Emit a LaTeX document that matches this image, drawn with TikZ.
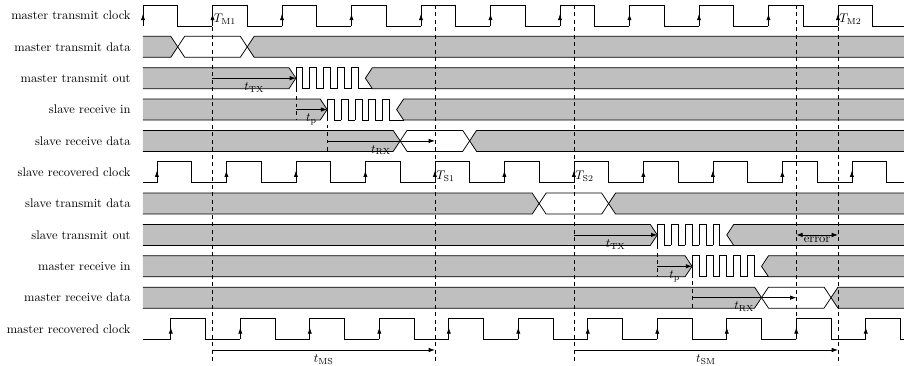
\documentclass[tikz,border=0pt]{standalone}
\usepackage{amsmath}
\usetikzlibrary{arrows.meta}

\newcommand{\bh}{0.335}
\newcommand{\bd}{0.2}
\newcommand{\xend}{21.9}

% clock, #1 = row, #2 = phase of first rising edge
\newcommand{\clkwave}[2]{%
  \draw[sigline] (0,#1-\bh) -- (#2,#1-\bh);
  \foreach \k in {0,...,10} {
    \draw[sigline] (#2+2*\k,#1-\bh) -- (#2+2*\k,#1+\bh) -- (#2+2*\k+1,#1+\bh)
      -- (#2+2*\k+1,#1-\bh) -- ({min(#2+2*\k+2,\xend)},#1-\bh);
    \draw[edgemark] (#2+2*\k,#1-\bh) -- (#2+2*\k,#1+0.05);
  }
}
% bus with one data word between #2 and #3
\newcommand{\datarow}[3]{%
  \fill[busfill] (0,#1+\bh) -- (#2-\bd,#1+\bh) -- (#2,#1) -- (#2-\bd,#1-\bh) -- (0,#1-\bh) -- cycle;
  \fill[busfill] (\xend,#1+\bh) -- (#3+\bd,#1+\bh) -- (#3,#1) -- (#3+\bd,#1-\bh) -- (\xend,#1-\bh) -- cycle;
  \draw[sigline] (0,#1+\bh) -- (#2-\bd,#1+\bh) -- (#2+\bd,#1-\bh) -- (#3-\bd,#1-\bh) -- (#3+\bd,#1+\bh) -- (\xend,#1+\bh);
  \draw[sigline] (0,#1-\bh) -- (#2-\bd,#1-\bh) -- (#2+\bd,#1+\bh) -- (#3-\bd,#1+\bh) -- (#3+\bd,#1-\bh) -- (\xend,#1-\bh);
}
% line with a bit burst starting at #2
\newcommand{\burstrow}[2]{%
  \fill[busfill] (0,#1+\bh) -- (#2-\bd,#1+\bh) -- (#2,#1) -- (#2-\bd,#1-\bh) -- (0,#1-\bh) -- cycle;
  \fill[busfill] (\xend,#1+\bh) -- (#2+2+\bd,#1+\bh) -- (#2+2,#1) -- (#2+2+\bd,#1-\bh) -- (\xend,#1-\bh) -- cycle;
  \draw[sigline] (0,#1+\bh) -- (#2-\bd,#1+\bh) -- (#2,#1) -- (#2-\bd,#1-\bh) -- (0,#1-\bh);
  \draw[sigline] (\xend,#1+\bh) -- (#2+2+\bd,#1+\bh) -- (#2+2,#1) -- (#2+2+\bd,#1-\bh) -- (\xend,#1-\bh);
  \foreach \k in {0,...,4}
    \draw[sigline] (#2+0.4*\k,#1-\bh) -- (#2+0.4*\k,#1+\bh) -- (#2+0.4*\k+0.2,#1+\bh)
      -- (#2+0.4*\k+0.2,#1-\bh) -- (#2+0.4*\k+0.4,#1-\bh);
  \draw[sigline] (#2+2,#1-\bh) -- (#2+2+\bd,#1-\bh);
}

\begin{document}
\begin{tikzpicture}[x=27.8pt, y=25.08pt,
    sigline/.style={line width=0.6pt},
    busfill/.style={fill=black!25},
    edgemark/.style={line width=0.6pt, -{Latex[length=5pt,width=3.4pt]}},
    guide/.style={line width=0.6pt, dashed},
    dimline/.style={line width=0.6pt, -{Latex[length=5pt,width=3.6pt]}},
    rowlabel/.style={anchor=east},
    tlabel/.style={anchor=west, inner sep=1pt}]
  \useasboundingbox (-4.115,0.494) rectangle (\xend,-11.15);

  \foreach \name [count=\i from 0] in {master transmit clock, master transmit data,
      master transmit out, slave receive in, slave receive data, slave recovered clock,
      slave transmit data, slave transmit out, master receive in, master receive data,
      master recovered clock}
    \node[rowlabel] (row\i) at (-0.23,-\i) {\name};

  \clkwave{0}{0}
  \datarow{-1}{1}{3}
  \burstrow{-2}{4.4}
  \burstrow{-3}{5.3}
  \datarow{-4}{7.4}{9.4}
  \clkwave{-5}{0.4}
  \datarow{-6}{11.4}{13.4}
  \burstrow{-7}{14.8}
  \burstrow{-8}{15.8}
  \datarow{-9}{17.8}{19.8}
  \clkwave{-10}{0.8}

  % reference instants
  \draw[guide] (2,\bh) -- (2,-11.05);
  \draw[guide] (8.4,\bh) -- (8.4,-11.05);
  \draw[guide] (12.4,\bh) -- (12.4,-11.05);
  \draw[guide] (18.8,\bh) -- (18.8,-10.335);
  \draw[guide] (20,\bh) -- (20,-11.05);
  \draw[guide] (4.4,-2.335) -- (4.4,-3.335);
  \draw[guide] (5.3,-3) -- (5.3,-4.335);
  \draw[guide] (14.8,-7.335) -- (14.8,-8.335);
  \draw[guide] (15.8,-8) -- (15.8,-9.335);

  \node[tlabel] (TMone) at (2,-0.12) {$T_{\mathrm{M1}}$};
  \node[tlabel] (TMtwo) at (20,-0.12) {$T_{\mathrm{M2}}$};
  \node[tlabel] (TSone) at (8.4,-5.12) {$T_{\mathrm{S1}}$};
  \node[tlabel] (TStwo) at (12.4,-5.12) {$T_{\mathrm{S2}}$};

  % master to slave
  \coordinate (txa) at (2,-2);     \coordinate (txb) at (4.4,-2);
  \coordinate (pa) at (4.4,-3);    \coordinate (pb) at (5.3,-3);
  \coordinate (rxa) at (5.3,-4);   \coordinate (rxb) at (8.4,-4);
  \draw[dimline] (txa) -- node[below] (ttxm) {$t_{\mathrm{TX}}$} (txb);
  \draw[dimline] (pa) -- node[below] (tpm) {$t_{\mathrm{p}}$} (pb);
  \draw[dimline] (rxa) -- node[below] (trxm) {$t_{\mathrm{RX}}$} (rxb);

  % slave to master
  \coordinate (txc) at (12.4,-7);  \coordinate (txd) at (14.8,-7);
  \coordinate (pc) at (14.8,-8);   \coordinate (pd) at (15.8,-8);
  \coordinate (rxc) at (15.8,-9);  \coordinate (rxd) at (18.8,-9);
  \draw[dimline] (txc) -- node[below] (ttxs) {$t_{\mathrm{TX}}$} (txd);
  \draw[dimline] (pc) -- node[below] (tps) {$t_{\mathrm{p}}$} (pd);
  \draw[dimline] (rxc) -- node[below] (trxs) {$t_{\mathrm{RX}}$} (rxd);

  \coordinate (erra) at (18.8,-7); \coordinate (errb) at (20,-7);
  \draw[dimline, {Latex[length=5pt,width=3.6pt]}-{Latex[length=5pt,width=3.6pt]}] (erra) -- node[below, inner sep=1.5pt] (err) {error} (errb);

  \coordinate (msa) at (2,-10.67);    \coordinate (msb) at (8.4,-10.67);
  \coordinate (sma) at (12.4,-10.67); \coordinate (smb) at (20,-10.67);
  \draw[dimline] (msa) -- node[below] (tms) {$t_{\mathrm{MS}}$} (msb);
  \draw[dimline] (sma) -- node[below] (tsm) {$t_{\mathrm{SM}}$} (smb);
\end{tikzpicture}
\end{document}
